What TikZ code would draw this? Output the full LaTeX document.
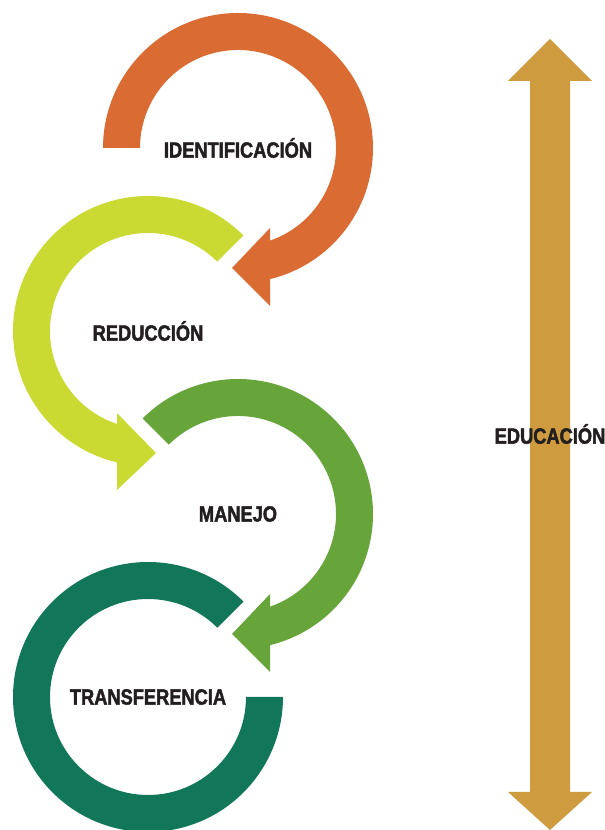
\documentclass[tikz,border=0pt]{standalone}
\usepackage{fontspec}
\setmainfont{Liberation Sans}
\newfontfamily\stagefont{Liberation Sans}[FakeStretch=0.83,FakeBold=2]
\definecolor{identcol}{HTML}{D96B33}
\definecolor{reduccol}{HTML}{CBDA32}
\definecolor{manejocol}{HTML}{67A53B}
\definecolor{transcol}{HTML}{127759}
\definecolor{educacol}{HTML}{CE9B3F}
\definecolor{labeltext}{HTML}{231F20}

\begin{document}
\begin{tikzpicture}[x=1pt,y=1pt,
    stage/.style={font=\fontsize{22}{22}\selectfont\stagefont\bfseries,
      text=labeltext, inner sep=0pt}]
  \useasboundingbox (0,0) rectangle (605,830);

  % identificacion: ring turning clockwise, head to the left
  \begin{scope}[shift={(238,682)}]
    \fill[identcol] (180:135) arc[start angle=180, end angle=-76.29, radius=135]
      -- (-70.94:98) arc[start angle=-70.94, end angle=180, radius=98] -- cycle;
    \fill[identcol] (32,-80) -- (32,-158) -- (-6,-120) -- cycle;
    \node[stage] (identificacion) at (0,0) {IDENTIFICACIÓN};
  \end{scope}

  % reduccion: ring turning anticlockwise, head to the right
  \begin{scope}[shift={(148,499)}]
    \fill[reduccol] (45:135) arc[start angle=45, end angle=256.72, radius=135]
      -- (251.56:98) arc[start angle=251.56, end angle=45, radius=98] -- cycle;
    \fill[reduccol] (-31,-82) -- (-31,-159) -- (8,-122) -- cycle;
    \node[stage] (reduccion) at (0,0) {REDUCCIÓN};
  \end{scope}

  % manejo
  \begin{scope}[shift={(238,316)}]
    \fill[manejocol] (135:135) arc[start angle=135, end angle=-76.29, radius=135]
      -- (-70.94:98) arc[start angle=-70.94, end angle=135, radius=98] -- cycle;
    \fill[manejocol] (32,-80) -- (32,-158) -- (-6,-120) -- cycle;
    \node[stage] (manejo) at (0,0) {MANEJO};
  \end{scope}

  % transferencia: open ring, no head
  \begin{scope}[shift={(148,133)}]
    \fill[transcol] (45:135) arc[start angle=45, end angle=360, radius=135]
      -- (0:98) arc[start angle=360, end angle=45, radius=98] -- cycle;
    \node[stage] (transferencia) at (0,0) {TRANSFERENCIA};
  \end{scope}

  % educacion: double arrow along the right side
  \fill[educacol] (530,38) -- (530,749) -- (508,749) -- (550,791) -- (592,749)
    -- (570,749) -- (570,38) -- (592,38) -- (550,0) -- (508,38) -- cycle;
  \node[stage] (educacion) at (550,396) {EDUCACIÓN};
\end{tikzpicture}
\end{document}
